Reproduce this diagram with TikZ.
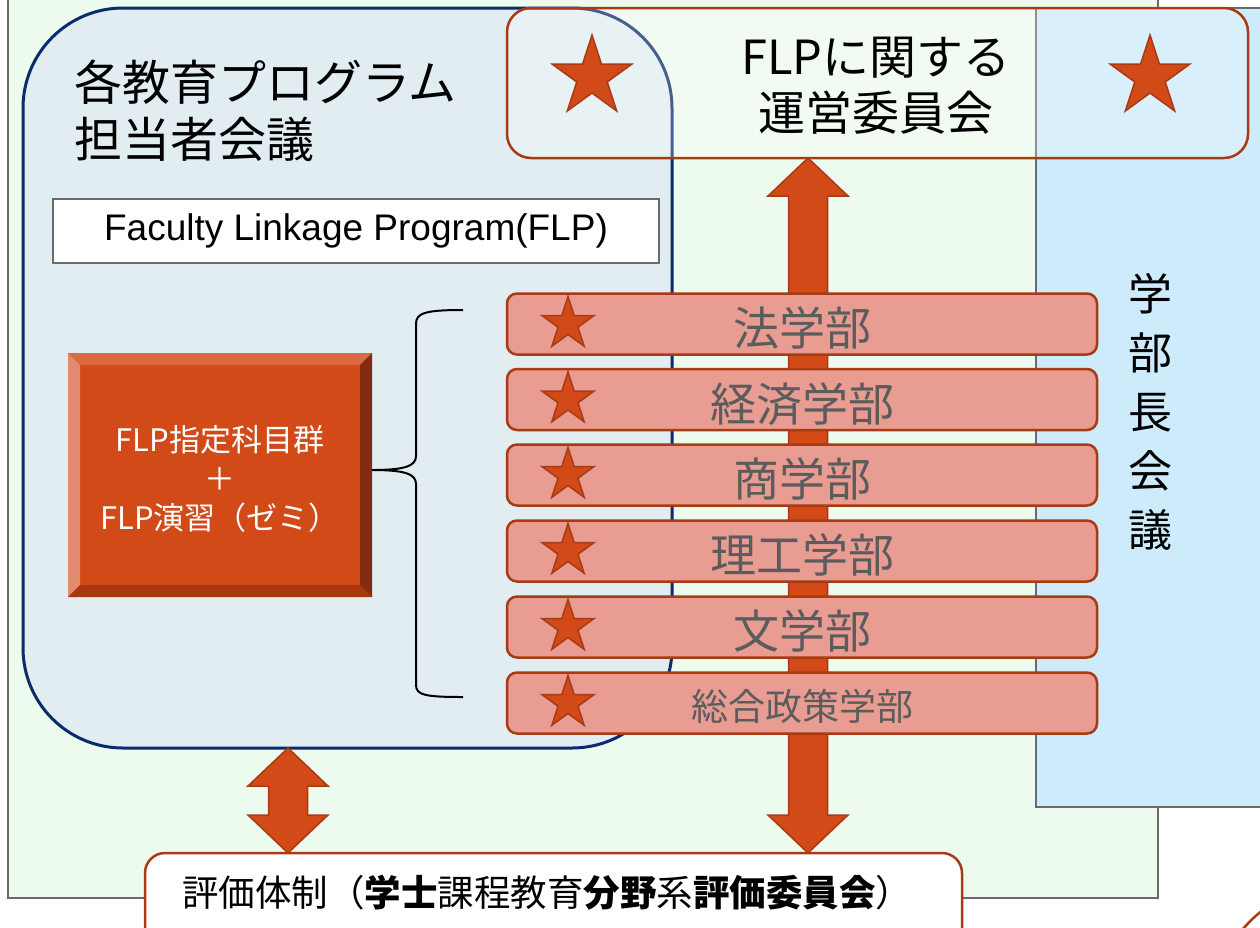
\documentclass[tikz,border=0pt]{standalone}
\usepackage{fontspec}
\setmainfont{Noto Sans CJK JP}
\newfontfamily\arialf{Liberation Sans}
\usetikzlibrary{shapes.geometric,calc}
\definecolor{bggreen}{HTML}{EDFAEE}
\definecolor{bgblue}{HTML}{CDEBFB}
\definecolor{lbfill}{HTML}{E1EDF1}
\definecolor{navy}{HTML}{0B2C6B}
\definecolor{framegray}{HTML}{6A6A6A}
\definecolor{orangered}{HTML}{D14A18}
\definecolor{darkorange}{HTML}{A83A14}
\definecolor{salmon}{HTML}{E89C92}
\definecolor{textgray}{HTML}{5C5C5C}
\definecolor{bevtop}{HTML}{DC6844}
\definecolor{bevleft}{HTML}{E38B70}
\definecolor{bevright}{HTML}{832C10}
\definecolor{bevbot}{HTML}{A83812}
\tikzset{
  jp/.style={font=\fontsize{#1}{#1}\selectfont},
  staricon/.style={star, star points=5, star point ratio=2.618, minimum size=#1,
    inner sep=0pt, outer sep=0pt, fill=orangered, draw=darkorange, line width=1.5pt},
  facbar/.style={rounded corners=10pt, draw=darkorange, line width=2.5pt, fill=salmon,
    minimum width=590pt, minimum height=61pt, text=textgray, inner sep=0pt, outer sep=0pt,
    text depth=0pt},
  fatarrow/.style={fill=orangered, draw=darkorange, line width=1.5pt, line join=miter},
  plainbox/.style={inner sep=0pt, outer sep=0pt},
  bracestyle/.style={draw=black, line width=2pt},
}
\newcommand\fatdarrow[2]{%
  \draw[fatarrow] (#1) -- ($(#1)+(40,38)$) -- ($(#1)+(19.5,38)$) -- ($(#2)+(19.5,-38)$)
    -- ($(#2)+(40,-38)$) -- (#2) -- ($(#2)+(-40,-38)$) -- ($(#2)+(-19.5,-38)$)
    -- ($(#1)+(-19.5,38)$) -- ($(#1)+(-40,38)$) -- cycle;}
\begin{document}
\begin{tikzpicture}[x=1pt,y=-1pt]
\useasboundingbox (0,0) rectangle (1260,927);
\clip (0,0) rectangle (1260,927);
% background frames
\node[plainbox, draw=framegray, line width=2.5pt, fill=bggreen, minimum width=1150pt,
  minimum height=918pt, anchor=south west] (frame) at (8,898) {};
\node[plainbox, draw=framegray, line width=2pt, fill=bgblue, minimum width=260pt,
  minimum height=799pt, anchor=north west] (council) at (1036,8) {};
\node[align=center, font=\fontsize{44}{59}\selectfont] (councilt) at (1150,412)
  {学\\部\\長\\会\\議};
% program box
\node[plainbox, draw=navy, line width=3pt, fill=lbfill, rounded corners=100pt,
  minimum width=649pt, minimum height=740pt, anchor=north west] (prog) at (23,8) {};
\node[plainbox, jp=48, anchor=west] (progt1) at (74,82) {各教育プログラム};
\node[plainbox, jp=48, anchor=west] (progt2) at (74,139) {担当者会議};
\node[plainbox, draw=framegray, line width=1.5pt, fill=white, minimum width=606pt,
  minimum height=64pt, font=\arialf\fontsize{37}{37}\selectfont] (flpname) at (356,231)
  {Faculty Linkage Program(FLP)};
% bevelled block
\node[plainbox, fill=orangered, minimum width=304pt, minimum height=244pt] (core) at (220,475) {};
\fill[bevtop] (core.north west) -- (core.north east) -- ($(core.north east)+(-12,12)$) -- ($(core.north west)+(12,12)$) -- cycle;
\fill[bevleft] (core.north west) -- ($(core.north west)+(12,12)$) -- ($(core.south west)+(12,-12)$) -- (core.south west) -- cycle;
\fill[bevright] (core.north east) -- ($(core.north east)+(-12,12)$) -- ($(core.south east)+(-12,-12)$) -- (core.south east) -- cycle;
\fill[bevbot] (core.south west) -- ($(core.south west)+(12,-12)$) -- ($(core.south east)+(-12,-12)$) -- (core.south east) -- cycle;
\node[text=white, align=center, font=\fontsize{31}{39}\selectfont] (coret) at (220,479)
  {FLP指定科目群\\＋\\FLP演習（ゼミ）};
% brace
\coordinate (bt) at (463,310);
\coordinate (bb) at (463,697);
\coordinate (btip) at ([yshift=5pt]core.east);
\draw[bracestyle] (bt) .. controls (425,310) and (416,313) .. (416,324) -- (416,456)
  .. controls (416,466) and (405,470) .. (btip)
  .. controls (405,470) and (416,474) .. (416,484) -- (416,685)
  .. controls (416,695) and (425,697) .. (bb);
% steering committee
\node[plainbox, draw=darkorange, line width=2.5pt, fill=white, fill opacity=0.25,
  rounded corners=24pt, minimum width=741pt, minimum height=150pt] (flp) at (877.5,83) {};
\node[staricon=84pt] (bigstar1) at ([xshift=85pt,yshift=6pt]flp.west) {};
\node[staricon=84pt] (bigstar2) at ([xshift=-98pt,yshift=6pt]flp.east) {};
\node[align=center, font=\fontsize{47}{56}\selectfont] (flpt) at (876,86) {FLPに関する\\運営委員会};
% evaluation box
\node[plainbox, draw=darkorange, line width=2.5pt, fill=white, rounded corners=20pt,
  minimum width=817pt, minimum height=120pt, anchor=north] (eval) at (553.5,853) {};
\node[plainbox, jp=36.5] (evalt) at (547,893)
  {評価体制（{\bfseries 学士}課程教育{\bfseries 分野}系{\bfseries 評価委員会}）};
% arrows
\coordinate (va) at ([xshift=-69.5pt]flp.south);
\coordinate (vb) at (va |- eval.north);
\fatdarrow{va}{vb}
\coordinate (da) at ([xshift=-59.5pt]prog.south);
\coordinate (db) at (da |- eval.north);
\fatdarrow{da}{db}
% faculties
\node[facbar, jp=46, text height=43pt] (f1) at (802,324) {法学部};
\node[facbar, jp=46, text height=43pt] (f2) at (802,399.5) {経済学部};
\node[facbar, jp=46, text height=43pt] (f3) at (802,475) {商学部};
\node[facbar, jp=46, text height=43pt] (f4) at (802,551) {理工学部};
\node[facbar, jp=46, text height=43pt] (f5) at (802,627) {文学部};
\node[facbar, jp=37, text height=34pt] (f6) at (802,703) {総合政策学部};
\foreach \i in {1,...,6} {
  \node[staricon=55pt] (s\i) at ([xshift=61pt]f\i.west) {};
}
% partial shape at bottom right corner
\draw[darkorange, line width=2.5pt] (1243,929) .. controls (1249,922) and (1255,916) .. (1263,910);
\end{tikzpicture}
\end{document}
